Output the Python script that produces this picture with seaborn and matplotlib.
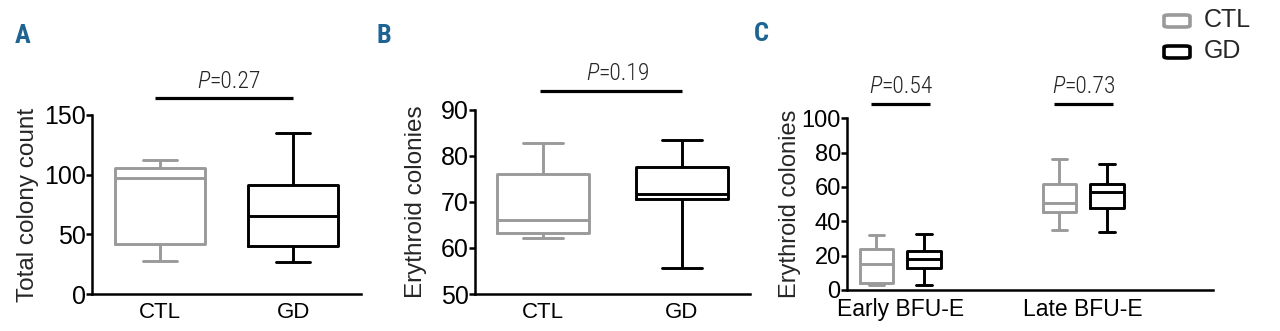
import matplotlib
matplotlib.use("Agg")
import matplotlib.pyplot as plt
import seaborn as sns
import pandas as pd
from matplotlib.patches import FancyBboxPatch
from matplotlib import font_manager

# ---------------- data (five-number summaries) -------------
groups = ["CTL", "GD"]
a_ctl = [28, 42, 97, 106, 112]
a_gd = [27, 40, 65, 91, 135]
b_ctl = [62.1, 63.2, 66.1, 76.1, 82.9]
b_gd = [55.6, 70.6, 71.7, 77.7, 83.5]
c_categories = ["Early BFU-E", "Late BFU-E"]
c_early_ctl = [2.9, 3.9, 15.1, 23.7, 31.8]
c_early_gd = [2.9, 13.0, 17.9, 22.7, 32.4]
c_late_ctl = [34.9, 45.6, 50.9, 61.6, 76.5]
c_late_gd = [34.0, 47.6, 57.3, 61.7, 73.4]
p_a = "0.27"
p_b = "0.19"
p_c = ["0.54", "0.73"]
a_yticks = [0, 50, 100, 150]
b_yticks = [50, 60, 70, 80, 90]
c_yticks = [0, 20, 40, 60, 80, 100]

sns.set_style("ticks")
plt.rcParams["font.family"] = ["Liberation Sans", "DejaVu Sans"]
plt.rcParams["axes.linewidth"] = 1.8
plt.rcParams["xtick.major.width"] = 1.8
plt.rcParams["ytick.major.width"] = 1.8
plt.rcParams["xtick.major.size"] = 0
plt.rcParams["ytick.major.size"] = 4
plt.rcParams["xtick.color"] = "black"
plt.rcParams["ytick.color"] = "black"
plt.rcParams["axes.edgecolor"] = "black"

installed = {f.name for f in font_manager.fontManager.ttflist}
narrow_choice = next((n for n in ["Liberation Sans Narrow", "Roboto Condensed", "Open Sans Condensed",
                                  "DejaVu Sans Condensed", "Roboto", "Liberation Sans"] if n in installed),
                     "DejaVu Sans")
NARROW = [narrow_choice, "DejaVu Sans"]

palette = {"CTL": "#9a9a9a", "GD": "#000000"}
LETTER_COLOR = "#1d6493"

W, H = 1280, 331
fig = plt.figure(figsize=(12.8, 3.31), dpi=100)


def add_ax(left, right, top, bottom):
    return fig.add_axes([left / W, (H - bottom) / H, (right - left) / W, (bottom - top) / H])


def p_text(ax, x, y, val, size=17):
    ax.text(x, y, "P", ha="right", va="center", fontsize=size, family=NARROW,
            fontstyle="italic", fontweight="light", clip_on=False)
    ax.text(x, y, "=" + val, ha="left", va="center", fontsize=size, family=NARROW,
            fontweight="light", clip_on=False)


def sig_line(ax, x0, x1, y):
    ax.plot([x0, x1], [y, y], color="black", lw=2.3, clip_on=False, solid_capstyle="butt")


box_kw = dict(fill=False, whis=(0, 100), linewidth=2.1, legend=False)

# ---------------- Panel A ----------------
axA = add_ax(92, 361, 115, 294)
dfA = pd.DataFrame({"group": ["CTL"] * len(a_ctl) + ["GD"] * len(a_gd), "value": a_ctl + a_gd})
sns.boxplot(data=dfA, x="group", y="value", hue="group", palette=palette, width=0.68,
            capwidths=0.26, ax=axA, order=groups, hue_order=groups, **box_kw)
axA.set_xlim(-0.51, 1.51)
axA.set_ylim(0, 150)
axA.set_yticks(a_yticks)
axA.set_xlabel("")
axA.set_ylabel("Total colony count", fontsize=17.5, labelpad=3.5)
axA.tick_params(axis="y", labelsize=18, pad=0.5)
axA.tick_params(axis="x", labelsize=16, pad=6)
sns.despine(ax=axA)
sig_line(axA, -0.04, 1.0, 164.5)
p_text(axA, 0.37, 178, p_a)

# ---------------- Panel B ----------------
axB = add_ax(475, 750, 110, 294)
dfB = pd.DataFrame({"group": ["CTL"] * len(b_ctl) + ["GD"] * len(b_gd), "value": b_ctl + b_gd})
sns.boxplot(data=dfB, x="group", y="value", hue="group", palette=palette, width=0.66,
            capwidths=0.29, ax=axB, order=groups, hue_order=groups, **box_kw)
axB.set_xlim(-0.49, 1.49)
axB.set_ylim(50, 90)
axB.set_yticks(b_yticks)
axB.set_xlabel("")
axB.set_ylabel("Erythroid colonies", fontsize=17.5, labelpad=10)
axB.tick_params(axis="y", labelsize=18, pad=0.5)
axB.tick_params(axis="x", labelsize=16, pad=6)
sns.despine(ax=axB)
sig_line(axB, -0.02, 1.0, 94.1)
p_text(axB, 0.40, 98, p_b)

# ---------------- Panel C ----------------
axC = add_ax(847, 1213, 118.3, 290)
rows = []
for cat, ctl, gd in [(c_categories[0], c_early_ctl, c_early_gd), (c_categories[1], c_late_ctl, c_late_gd)]:
    rows += [(cat, "CTL", v) for v in ctl]
    rows += [(cat, "GD", v) for v in gd]
dfC = pd.DataFrame(rows, columns=["cat", "group", "value"])
sns.boxplot(data=dfC, x="cat", y="value", hue="group", palette=palette, width=0.52, gap=0.3,
            capwidths=0.085, ax=axC, order=c_categories, hue_order=groups, **box_kw)
axC.set_xlim(-0.29, 1.71)
axC.set_ylim(0, 100)
axC.set_yticks(c_yticks)
axC.set_xlabel("")
axC.set_ylabel("Erythroid colonies", fontsize=17, labelpad=0)
axC.tick_params(axis="y", labelsize=17, pad=0.5)
axC.tick_params(axis="x", labelsize=16.5, pad=6)
sns.despine(ax=axC)
for i, p in enumerate(p_c):
    sig_line(axC, i - 0.16, i + 0.165, 108.2)
    p_text(axC, i - 0.1, 118.8, p)

# legend (drawn in figure pixel space)
for yy, g in [(21, "CTL"), (52, "GD")]:
    fig.patches.append(FancyBboxPatch((1164 / W, (H - yy - 6) / H), 26 / W, 12 / H,
                                      boxstyle="round,pad=0,rounding_size=0.004",
                                      transform=fig.transFigure, fill=False,
                                      edgecolor=palette[g], linewidth=2.6))
    fig.text(1204 / W, (H - yy + 1) / H, g, fontsize=18, va="center", ha="left")

# panel letters
for x, y, s in [(15, 36, "A"), (377, 36, "B"), (754, 34, "C")]:
    fig.text(x / W, (H - y) / H, s, fontsize=19, fontweight="bold", color=LETTER_COLOR,
             family=NARROW, va="center", ha="left")

fig.savefig("out.png", dpi=100, facecolor="white")
